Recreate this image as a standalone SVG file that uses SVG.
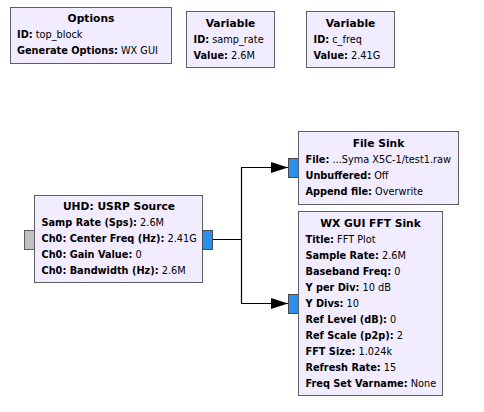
<svg xmlns="http://www.w3.org/2000/svg" width="484" height="412" viewBox="0 0 484 412">
<defs>
<style>
.blk{fill:#F1ECFF;stroke:#5E5E5E;stroke-width:1}
text{font-family:"DejaVu Sans","Liberation Sans",sans-serif;font-size:9.75px;fill:#000}
.t{font-weight:bold;text-anchor:middle;font-size:10.7px}
.k{font-weight:bold}
.port{fill:#2990EE;stroke:#4A4A4A;stroke-width:1}
.msg{fill:#C0C0C0;stroke:#5E5E5E;stroke-width:1}
.wire{fill:none;stroke:#000;stroke-width:1.2}
</style>
<marker id="arr" markerWidth="17" markerHeight="12" refX="17" refY="6" orient="auto" markerUnits="userSpaceOnUse">
<path d="M0,0.5 L17,6 L0,11.5 Z" fill="#000"/>
</marker>
</defs>
<rect width="484" height="412" fill="#FFFFFF"/>
<g id="connectors">
<path class="wire" d="M212.5,239.5 H241.5 V167.5 H288" marker-end="url(#arr)"/>
<path class="wire" d="M241.5,239.5 V303.5 H288" marker-end="url(#arr)"/>
</g>
<g id="options">
<rect class="blk" x="10.5" y="7.5" width="161" height="56"/>
<text class="t" x="91" y="22">Options</text>
<text x="17" y="38"><tspan class="k">ID:</tspan> top_block</text>
<text x="17" y="54"><tspan class="k">Generate Options:</tspan> WX GUI</text>
</g>
<g id="var_samp_rate">
<rect class="blk" x="186.5" y="11.5" width="88" height="56"/>
<text class="t" x="230.5" y="26.5">Variable</text>
<text x="193.5" y="42.5"><tspan class="k">ID:</tspan> samp_rate</text>
<text x="193.5" y="58.5"><tspan class="k">Value:</tspan> 2.6M</text>
</g>
<g id="var_c_freq">
<rect class="blk" x="306.5" y="11.5" width="88" height="56"/>
<text class="t" x="350.5" y="26.5">Variable</text>
<text x="313.5" y="42.5"><tspan class="k">ID:</tspan> c_freq</text>
<text x="313.5" y="58.5"><tspan class="k">Value:</tspan> 2.41G</text>
</g>
<g id="usrp_source">
<rect class="msg" x="24.5" y="230.5" width="10" height="19"/>
<rect class="blk" x="34.5" y="195.5" width="168" height="87"/>
<rect class="port" x="202.5" y="230.5" width="10" height="19"/>
<text class="t" x="119" y="210">UHD: USRP Source</text>
<text x="41.5" y="226"><tspan class="k">Samp Rate (Sps):</tspan> 2.6M</text>
<text x="41.5" y="242"><tspan class="k">Ch0: Center Freq (Hz):</tspan> 2.41G</text>
<text x="41.5" y="258"><tspan class="k">Ch0: Gain Value:</tspan> 0</text>
<text x="41.5" y="274"><tspan class="k">Ch0: Bandwidth (Hz):</tspan> 2.6M</text>
</g>
<g id="file_sink">
<rect class="port" x="288.5" y="158.5" width="10" height="19"/>
<rect class="blk" x="298.5" y="131.5" width="160" height="73"/>
<text class="t" x="378.5" y="146.5">File Sink</text>
<text x="305.5" y="162.5"><tspan class="k">File:</tspan> ...Syma X5C-1/test1.raw</text>
<text x="305.5" y="178.5"><tspan class="k">Unbuffered:</tspan> Off</text>
<text x="305.5" y="194.5"><tspan class="k">Append file:</tspan> Overwrite</text>
</g>
<g id="fft_sink">
<rect class="port" x="288.5" y="294.5" width="10" height="19"/>
<rect class="blk" x="298.5" y="211.5" width="144" height="184"/>
<text class="t" x="370.5" y="226.5">WX GUI FFT Sink</text>
<text x="305.5" y="242.5"><tspan class="k">Title:</tspan> FFT Plot</text>
<text x="305.5" y="258.5"><tspan class="k">Sample Rate:</tspan> 2.6M</text>
<text x="305.5" y="274.5"><tspan class="k">Baseband Freq:</tspan> 0</text>
<text x="305.5" y="290.5"><tspan class="k">Y per Div:</tspan> 10 dB</text>
<text x="305.5" y="306.5"><tspan class="k">Y Divs:</tspan> 10</text>
<text x="305.5" y="322.5"><tspan class="k">Ref Level (dB):</tspan> 0</text>
<text x="305.5" y="338.5"><tspan class="k">Ref Scale (p2p):</tspan> 2</text>
<text x="305.5" y="354.5"><tspan class="k">FFT Size:</tspan> 1.024k</text>
<text x="305.5" y="370.5"><tspan class="k">Refresh Rate:</tspan> 15</text>
<text x="305.5" y="386.5"><tspan class="k">Freq Set Varname:</tspan> None</text>
</g>
</svg>
